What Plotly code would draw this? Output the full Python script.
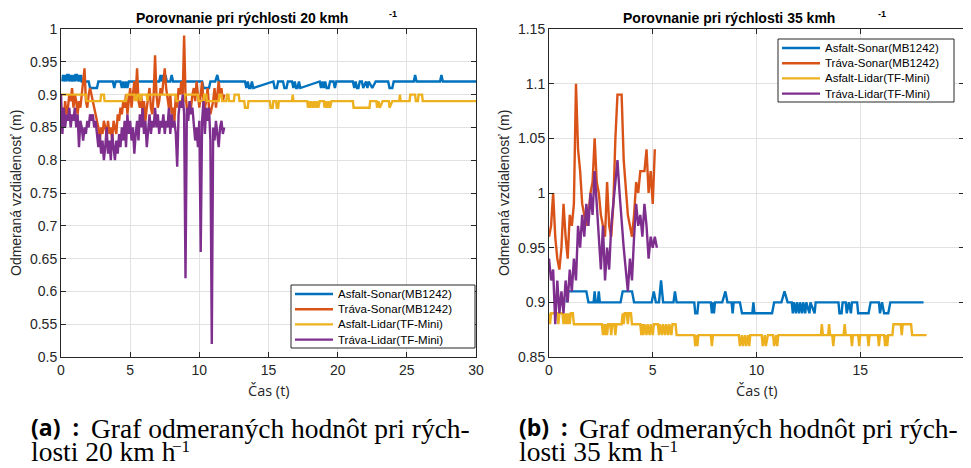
import plotly.graph_objects as go

# The page body adds an 8 px margin, so the figure is drawn 8 px right/down of the window corner.
OFF = 8
W, H = 971 - OFF, 468 - OFF

# ---------------- DATA: 20 km/h ----------------
series_names = ["Asfalt-Sonar(MB1242)", "Tráva-Sonar(MB1242)", "Asfalt-Lidar(TF-Mini)", "Tráva-Lidar(TF-Mini)"]
colors = ["#0072BD", "#D95319", "#EDB120", "#7E2F8E"]

asf_son20_t = [0.1, 0.15, 0.2, 0.3, 0.4, 0.45, 0.55, 0.6, 0.7, 0.8, 0.9, 1.0, 1.05, 1.15, 1.2, 1.3, 1.35, 1.45, 1.5,
               2.0, 2.1, 2.6, 2.7, 3.75, 3.85, 3.95, 4.3, 4.4, 4.5, 4.6, 4.7, 4.8, 4.9,
               7.1, 7.2, 7.3, 7.35, 7.45, 7.55, 7.65, 7.9, 8.0, 8.1, 10.2, 10.3, 10.7, 10.8, 11.15, 11.3, 11.4,
               13.3, 13.4, 13.5, 13.6, 13.7, 13.8, 13.9, 15.35, 15.45, 15.6, 15.7, 16.05, 16.15, 16.3, 16.4,
               16.7, 16.8, 16.9, 17.0, 17.1, 17.2, 17.3, 18.7, 18.8, 18.9, 19.0, 19.1, 19.2, 19.35, 19.45,
               19.7, 19.8, 19.9, 21.1, 21.2, 21.3, 21.4, 21.5, 21.6, 21.75, 21.85, 22.05, 22.15, 22.25, 22.5, 22.75,
               23.65, 23.75, 23.95, 24.05, 25.5, 25.6, 25.7, 27.4, 27.5, 27.6, 30.0]
asf_son20_v = [0.92, 0.93, 0.92, 0.93, 0.92, 0.93, 0.93, 0.92, 0.93, 0.92, 0.93, 0.92, 0.93, 0.93, 0.92, 0.93, 0.92, 0.93, 0.92,
               0.92, 0.91, 0.91, 0.92, 0.92, 0.91, 0.92, 0.92, 0.91, 0.92, 0.91, 0.92, 0.91, 0.92,
               0.92, 0.93, 0.92, 0.93, 0.92, 0.93, 0.92, 0.92, 0.93, 0.92, 0.92, 0.91, 0.91, 0.92, 0.92, 0.93, 0.92,
               0.92, 0.91, 0.92, 0.91, 0.91, 0.92, 0.91, 0.92, 0.91, 0.91, 0.92, 0.92, 0.91, 0.91, 0.92,
               0.92, 0.91, 0.92, 0.91, 0.91, 0.92, 0.91, 0.92, 0.91, 0.92, 0.91, 0.92, 0.91, 0.91, 0.92,
               0.92, 0.91, 0.92, 0.92, 0.91, 0.92, 0.91, 0.91, 0.92, 0.92, 0.91, 0.92, 0.91, 0.92, 0.91, 0.92,
               0.92, 0.91, 0.91, 0.92, 0.92, 0.93, 0.92, 0.92, 0.93, 0.92, 0.92]

trava_son20_v = [0.87, 0.88, 0.86, 0.89, 0.87, 0.88, 0.90, 0.89, 0.91, 0.88, 0.90, 0.89, 0.87, 0.89, 0.88, 0.90, 0.91, 0.94, 0.89, 0.88,
                 0.90, 0.91, 0.90, 0.89, 0.88, 0.87, 0.86, 0.85, 0.83, 0.85, 0.84, 0.86, 0.85, 0.84, 0.86, 0.84, 0.85, 0.83, 0.86, 0.85,
                 0.84, 0.87, 0.86, 0.88, 0.87, 0.89, 0.88, 0.90, 0.87, 0.89, 0.91, 0.88, 0.90, 0.92, 0.90, 0.94, 0.89, 0.88, 0.90, 0.87,
                 0.89, 0.86, 0.88, 0.90, 0.91, 0.88, 0.87, 0.90, 0.96, 0.90, 0.88, 0.89, 0.91, 0.90, 0.92, 0.94, 0.91, 0.89, 0.88, 0.90,
                 0.87, 0.88, 0.86, 0.90, 0.88, 0.91, 0.90, 0.92, 0.90, 0.99, 0.90, 0.88, 0.87, 0.89, 0.88, 0.90, 0.91, 0.89, 0.92, 0.90,
                 0.88, 0.90, 0.92, 0.89, 0.88, 0.89, 0.91, 0.88, 0.87, 0.88, 0.89, 0.91, 0.88, 0.90, 0.92, 0.90, 0.91, 0.89, 0.90]

asf_lid20_t = [0.0, 1.8, 1.85, 2.85, 2.9, 3.1, 3.15, 4.7, 4.75, 5.3, 5.35, 5.4, 5.5, 5.55, 5.7, 5.75, 5.8, 6.2, 6.25, 6.3,
               8.3, 8.35, 8.9, 8.95, 9.9, 9.95, 10.3, 10.35, 10.5, 10.55, 11.4, 11.45, 11.6, 11.65, 11.95, 12.0, 12.1, 12.15,
               12.5, 12.55, 12.85, 12.9, 13.25, 13.3, 13.5, 13.55, 15.1, 15.15, 15.3, 15.35, 15.55, 15.6, 15.7, 15.75,
               16.7, 16.75, 16.8, 17.8, 17.85, 17.95, 18.0, 18.1, 18.2, 18.3, 18.4, 18.5, 18.6, 18.7, 19.0, 19.05, 19.15,
               19.25, 19.35, 19.45, 19.55, 21.1, 21.15, 22.3, 22.35, 22.8, 22.85, 22.95, 23.05, 23.25, 23.7, 23.75, 23.95,
               24.45, 24.5, 24.55, 25.2, 25.25, 25.6, 25.65, 25.8, 25.85, 26.1, 26.15, 30.0]
asf_lid20_v = [0.90, 0.90, 0.89, 0.89, 0.90, 0.90, 0.89, 0.89, 0.90, 0.90, 0.89, 0.90, 0.89, 0.90, 0.90, 0.89, 0.90, 0.90, 0.89, 0.90,
               0.90, 0.89, 0.89, 0.90, 0.90, 0.89, 0.89, 0.90, 0.90, 0.89, 0.89, 0.90, 0.90, 0.89, 0.89, 0.90, 0.90, 0.89,
               0.89, 0.90, 0.90, 0.89, 0.89, 0.88, 0.88, 0.89, 0.89, 0.88, 0.88, 0.89, 0.89, 0.88, 0.88, 0.89,
               0.89, 0.90, 0.89, 0.89, 0.88, 0.89, 0.88, 0.89, 0.88, 0.89, 0.88, 0.89, 0.88, 0.89, 0.89, 0.88, 0.89,
               0.88, 0.89, 0.88, 0.89, 0.89, 0.88, 0.88, 0.89, 0.89, 0.88, 0.89, 0.88, 0.89, 0.89, 0.88, 0.89,
               0.89, 0.90, 0.89, 0.89, 0.90, 0.90, 0.89, 0.89, 0.90, 0.90, 0.89, 0.89]

trava_lid20_v = [0.90, 0.84, 0.88, 0.85, 0.87, 0.86, 0.88, 0.85, 0.87, 0.86, 0.88, 0.85, 0.87, 0.82, 0.86, 0.85, 0.83, 0.85, 0.84, 0.86,
                 0.85, 0.87, 0.86, 0.87, 0.85, 0.86, 0.84, 0.82, 0.84, 0.81, 0.83, 0.80, 0.82, 0.85, 0.81, 0.83, 0.80, 0.84, 0.82, 0.80,
                 0.83, 0.81, 0.84, 0.82, 0.85, 0.83, 0.86, 0.82, 0.87, 0.84, 0.86, 0.83, 0.85, 0.81, 0.84, 0.86, 0.83, 0.87, 0.85, 0.88,
                 0.84, 0.86, 0.82, 0.85, 0.87, 0.84, 0.86, 0.85, 0.88, 0.85, 0.87, 0.84, 0.86, 0.85, 0.87, 0.84, 0.86, 0.85, 0.88, 0.84,
                 0.87, 0.85, 0.86, 0.84, 0.79, 0.87, 0.89, 0.88, 0.90, 0.87, 0.62, 0.88, 0.86, 0.89, 0.87, 0.88, 0.86, 0.83, 0.85, 0.82,
                 0.86, 0.66, 0.86, 0.89, 0.84, 0.88, 0.86, 0.88, 0.83, 0.52, 0.85, 0.83, 0.86, 0.84, 0.82, 0.85, 0.86, 0.84, 0.85]
dt20 = 0.1

# ---------------- DATA: 35 km/h ----------------
asf_son35_t = [0.85, 0.9, 1.8, 1.9, 2.15, 2.2, 2.25, 2.35, 2.4, 2.45, 3.45, 3.55, 4.0, 4.1, 4.95, 5.05, 5.15, 5.3, 5.4, 5.5,
               6.0, 6.07, 6.15, 7.0, 7.05, 7.15, 7.2, 7.8, 7.85, 7.9, 7.95, 8.0, 8.35, 8.5, 8.6, 8.8, 8.85, 8.9, 9.2, 9.3,
               9.8, 9.85, 9.9, 10.75, 10.85, 11.2, 11.35, 11.5, 11.7, 11.75, 11.8, 11.9, 11.95, 12.05, 12.1, 12.2, 12.25,
               12.35, 12.4, 12.55, 12.6, 12.8, 12.85, 13.95, 14.0, 14.1, 14.15, 14.3, 14.35, 14.45, 14.55, 14.6, 14.85,
               14.9, 15.4, 15.5, 15.9, 15.95, 16.05, 16.15, 16.35, 16.45, 18.05]
asf_son35_v = [0.90, 0.91, 0.91, 0.90, 0.90, 0.91, 0.90, 0.90, 0.91, 0.90, 0.90, 0.91, 0.91, 0.90, 0.90, 0.91, 0.90, 0.90, 0.92, 0.90,
               0.90, 0.91, 0.90, 0.90, 0.89, 0.89, 0.90, 0.90, 0.89, 0.90, 0.89, 0.90, 0.90, 0.91, 0.90, 0.90, 0.89, 0.90, 0.90, 0.89,
               0.89, 0.90, 0.89, 0.89, 0.90, 0.90, 0.91, 0.90, 0.90, 0.89, 0.90, 0.89, 0.90, 0.89, 0.90, 0.89, 0.90,
               0.89, 0.90, 0.89, 0.90, 0.89, 0.90, 0.90, 0.89, 0.89, 0.90, 0.90, 0.89, 0.90, 0.89, 0.90, 0.90,
               0.89, 0.89, 0.90, 0.90, 0.89, 0.90, 0.89, 0.89, 0.90, 0.90]

trava_son35_v = [0.96, 0.97, 1.00, 0.96, 0.94, 0.93, 0.95, 0.99, 0.96, 0.94, 0.98, 0.97, 0.99, 1.10, 1.04, 1.02, 0.99, 0.98, 0.97, 0.98,
                 1.00, 1.01, 1.05, 1.01, 1.00, 0.98, 0.97, 0.96, 1.01, 0.97, 0.96, 0.99, 1.05, 1.09, 1.09, 1.09, 1.03, 1.00, 0.98, 0.97,
                 0.96, 0.98, 1.01, 1.00, 1.02, 1.02, 1.02, 1.04, 1.00, 1.02, 0.99, 1.04]

asf_lid35_t = [0.0, 0.05, 0.1, 0.4, 0.45, 0.5, 0.65, 0.7, 0.75, 0.8, 0.85, 0.9, 0.95, 1.0, 1.05, 1.15, 1.2, 2.55, 2.6, 2.65,
               2.7, 2.75, 2.8, 2.85, 2.95, 3.0, 3.05, 3.15, 3.2, 3.25, 3.5, 3.55, 3.6, 3.65, 3.75, 3.8, 3.85, 3.95, 4.0, 4.4,
               4.45, 4.5, 4.55, 4.6, 4.7, 4.75, 4.85, 4.9, 5.0, 5.05, 5.25, 5.3, 5.35, 5.45, 5.5, 5.6, 5.65, 5.75, 5.8, 5.9,
               5.95, 6.1, 6.15, 7.0, 7.05, 7.1, 7.15, 7.2, 7.8, 7.85, 7.9, 9.15, 9.2, 9.3, 9.35, 9.45, 9.5, 9.6, 9.65, 9.7,
               10.25, 10.3, 10.4, 10.45, 10.55, 10.8, 10.85, 10.95, 11.0, 11.05, 13.1, 13.15, 13.2, 13.45, 13.5, 13.55, 13.65,
               13.7, 13.75, 14.2, 14.25, 14.3, 14.55, 14.6, 14.65, 14.9, 14.95, 15.0, 15.35, 15.4, 15.45, 15.85, 15.9, 15.95,
               16.15, 16.2, 16.25, 16.3, 16.35, 16.55, 16.6, 16.95, 17.0, 17.05, 17.45, 17.5, 18.2]
asf_lid35_v = [0.89, 0.88, 0.89, 0.89, 0.88, 0.89, 0.89, 0.88, 0.89, 0.88, 0.89, 0.88, 0.89, 0.88, 0.89, 0.89, 0.88, 0.88, 0.87, 0.88,
               0.87, 0.88, 0.87, 0.88, 0.88, 0.87, 0.88, 0.88, 0.87, 0.88, 0.88, 0.89, 0.88, 0.89, 0.89, 0.88, 0.89, 0.89, 0.88, 0.88,
               0.87, 0.88, 0.87, 0.88, 0.87, 0.88, 0.87, 0.88, 0.87, 0.88, 0.88, 0.87, 0.88, 0.87, 0.88, 0.87, 0.88, 0.87, 0.88, 0.87,
               0.88, 0.88, 0.87, 0.87, 0.86, 0.87, 0.86, 0.87, 0.87, 0.86, 0.87, 0.87, 0.86, 0.87, 0.86, 0.87, 0.86, 0.87, 0.86, 0.87,
               0.87, 0.86, 0.87, 0.86, 0.87, 0.87, 0.86, 0.87, 0.86, 0.87, 0.87, 0.88, 0.87, 0.87, 0.88, 0.87, 0.87,
               0.86, 0.87, 0.87, 0.88, 0.87, 0.87, 0.86, 0.87, 0.87, 0.86, 0.87, 0.87, 0.86, 0.87, 0.87, 0.86, 0.87,
               0.87, 0.86, 0.87, 0.86, 0.87, 0.87, 0.88, 0.88, 0.87, 0.88, 0.88, 0.87, 0.87]

trava_lid35_v = [0.94, 0.92, 0.93, 0.88, 0.92, 0.89, 0.91, 0.89, 0.92, 0.90, 0.93, 0.91, 0.94, 0.92, 0.97, 0.95, 0.98, 0.96, 0.99, 0.97,
                 1.00, 0.98, 1.02, 0.99, 0.96, 0.93, 0.97, 0.92, 0.95, 0.93, 0.97, 0.99, 1.01, 1.03, 1.00, 0.97, 0.95, 0.93, 0.91, 0.94,
                 0.92, 0.96, 0.99, 0.97, 0.98, 0.96, 0.99, 0.97, 0.94, 0.96, 0.95, 0.96, 0.95]
dt35 = 0.1

x_ticks_20 = [0, 5, 10, 15, 20, 25, 30]
y_ticks_20 = [0.5, 0.55, 0.6, 0.65, 0.7, 0.75, 0.8, 0.85, 0.9, 0.95, 1.0]
x_ticks_35 = [0, 5, 10, 15, 20]
y_ticks_35 = [0.85, 0.9, 0.95, 1.0, 1.05, 1.1, 1.15]


def tvec(vals, dt):
    return [round(i * dt, 3) for i in range(len(vals))]


def px(x):
    return (x - OFF) / W


def py(y):
    return 1 - (y - OFF) / H


fig = go.Figure()

left = [(asf_son20_t, asf_son20_v), (tvec(trava_son20_v, dt20), trava_son20_v),
        (asf_lid20_t, asf_lid20_v), (tvec(trava_lid20_v, dt20), trava_lid20_v)]
right = [(asf_son35_t, asf_son35_v), (tvec(trava_son35_v, dt35), trava_son35_v),
         (asf_lid35_t, asf_lid35_v), (tvec(trava_lid35_v, dt35), trava_lid35_v)]

LW = 2.4
for i, (t, v) in enumerate(left):
    fig.add_trace(go.Scatter(x=t, y=v, mode="lines", name=series_names[i], showlegend=False,
                             line=dict(color=colors[i], width=LW), xaxis="x", yaxis="y"))
for i, (t, v) in enumerate(right):
    fig.add_trace(go.Scatter(x=t, y=v, mode="lines", name=series_names[i], showlegend=False,
                             line=dict(color=colors[i], width=LW), xaxis="x2", yaxis="y2"))

ax_col = "#262626"
tickfont = dict(family="Liberation Sans", size=14, color=ax_col)
common = dict(showline=True, linecolor=ax_col, linewidth=1, mirror="ticks", ticks="inside", ticklen=5,
              tickcolor=ax_col, showgrid=True, gridcolor="#e2e2e2", gridwidth=1, zeroline=False,
              tickfont=tickfont, automargin=False, fixedrange=True)

fig.update_layout(
    width=W, height=H, autosize=False, margin=dict(l=0, r=0, t=0, b=0, pad=0, autoexpand=False),
    paper_bgcolor="white", plot_bgcolor="white", showlegend=False,
    xaxis=dict(domain=[px(61), px(476)], range=[0, 30], tickvals=x_ticks_20, anchor="y", **common),
    yaxis=dict(domain=[py(357), py(29)], range=[0.5, 1.0], tickvals=y_ticks_20, anchor="x", **common),
    xaxis2=dict(domain=[px(549), px(964)], range=[0, 20], tickvals=x_ticks_35, anchor="y2", **common),
    yaxis2=dict(domain=[py(357), py(29)], range=[0.85, 1.15], tickvals=y_ticks_35, anchor="x2", **common),
)


def ann(text, x, y, size, family="Liberation Sans", xanchor="center", yanchor="middle", angle=0, color="black"):
    fig.add_annotation(text=text, x=px(x), y=py(y), xref="paper", yref="paper", showarrow=False,
                       xanchor=xanchor, yanchor=yanchor, textangle=angle, borderpad=0,
                       font=dict(family=family, size=size, color=color))


# manual legends (box, line samples, labels)
for (bx0, by0, bx1, by1) in [(291, 285, 475, 348), (778, 39, 954, 102)]:
    fig.add_shape(type="rect", xref="paper", yref="paper", x0=px(bx0), x1=px(bx1), y0=py(by1), y1=py(by0),
                  line=dict(color=ax_col, width=1), fillcolor="white", layer="above")
    for i, name in enumerate(series_names):
        ry = by0 + 9 + i * 15.2
        fig.add_shape(type="line", xref="paper", yref="paper", x0=px(bx0 + 4), x1=px(bx0 + 42),
                      y0=py(ry), y1=py(ry), line=dict(color=colors[i], width=LW), layer="above")
        ann(name, bx0 + 46, ry, 11.5, xanchor="left")

# titles
ann("<b>Porovnanie pri rýchlosti 20 kmh</b>", 242, 18, 14)
ann("<b>-1</b>", 393, 8, 9, yanchor="top")
ann("<b>Porovnanie pri rýchlosti 35 kmh</b>", 729, 18, 14)
ann("<b>-1</b>", 882, 8, 9, yanchor="top")
# axis titles
ann("Odmeraná vzdialenosť (m)", 16, 193, 14, angle=-90, color=ax_col)
ann("Odmeraná vzdialenosť (m)", 504, 193, 14, angle=-90, color=ax_col)
ann("Čas (t)", 269, 390, 14.5, family="Open Sans", color=ax_col)
ann("Čas (t)", 757, 390, 14.5, family="Open Sans", color=ax_col)
# captions
for x0, lab, spd in [(30, "(a)", "20"), (518, "(b)", "35")]:
    ann("<b>" + lab + "&nbsp;&nbsp;:</b>", x0, 427, 23, family="Open Sans", xanchor="left")
    ann("Graf odmeraných hodnôt pri rých-", x0 + 60, 428, 27.5, family="Liberation Serif", xanchor="left")
    ann("losti " + spd + " km h", x0, 468, 27.5, family="Liberation Serif", xanchor="left", yanchor="bottom")
    ann("−1", x0 + 141, 446, 17, family="Liberation Serif", xanchor="left")

fig.write_html("out.html")
